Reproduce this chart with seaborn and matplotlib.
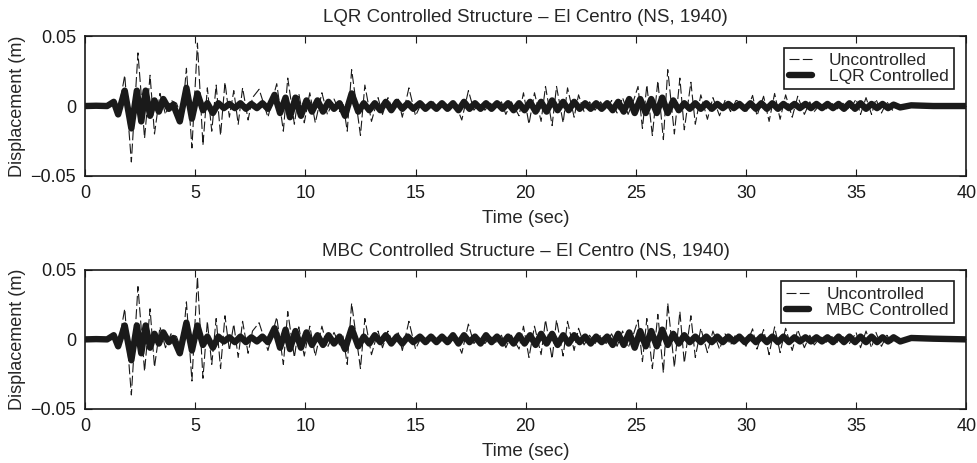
import numpy as np
import seaborn as sns
import matplotlib.pyplot as plt

# uncontrolled response (same record in both panels), peaks
t_unc = [0.0, 0.5, 1.0, 1.25, 1.5, 1.8, 2.1, 2.4, 2.7, 2.95,
         3.15, 3.4, 3.65, 3.9, 4.15, 4.4, 4.6, 4.85, 5.1, 5.35,
         5.55, 5.75, 5.95, 6.15, 6.35, 6.55, 6.75, 6.95, 7.15, 7.4,
         7.6, 7.9, 8.3, 8.7, 9.0, 9.2, 9.5, 9.7, 9.95, 10.2,
         10.45, 10.75, 11.0, 11.3, 11.55, 11.7, 11.9, 12.1, 12.5, 12.7,
         13.0, 13.3, 13.5, 13.75, 14.0, 14.2, 14.4, 14.7, 15.0, 15.3,
         15.55, 15.8, 16.05, 16.3, 16.55, 16.8, 17.1, 17.4, 17.65, 17.9,
         18.15, 18.4, 18.65, 18.9, 19.1, 19.35, 19.7, 19.9, 20.15, 20.4,
         20.7, 20.9, 21.2, 21.4, 21.7, 21.9, 22.2, 22.4, 22.65, 22.9,
         23.15, 23.4, 23.65, 23.9, 24.15, 24.4, 24.65, 24.9, 25.1, 25.3,
         25.5, 25.75, 26.0, 26.25, 26.45, 26.75, 27.0, 27.2, 27.5, 27.7,
         27.95, 28.25, 28.5, 28.8, 29.05, 29.3, 29.55, 29.75, 30.0, 30.3,
         30.5, 30.8, 31.05, 31.3, 31.55, 31.8, 32.1, 32.35, 32.65, 32.9,
         33.1, 33.4, 33.65, 33.9, 34.15, 34.4, 34.7, 35.0, 35.2, 35.45,
         35.7, 35.9, 36.15, 36.4, 36.65, 36.8, 37.1, 37.5, 38.5, 40.0]
d_unc = [0, 0.0002, -0.0003, 0.002, -0.005, 0.022, -0.040, 0.038, -0.023, 0.022,
         -0.020, 0.009, -0.006, 0.004, 0.002, -0.009, 0.027, -0.030, 0.045, -0.028,
         0.013, -0.018, 0.015, -0.021, 0.017, -0.008, 0.011, -0.013, 0.013, -0.010,
         0.006, 0.012, -0.008, 0.016, -0.018, 0.020, -0.013, 0.009, -0.012, 0.0095,
         -0.012, 0.0095, -0.006, 0.005, -0.004, 0.003, -0.018, 0.026, -0.021, 0.015,
         -0.011, 0.006, -0.006, 0.006, -0.004, 0.006, -0.008, 0.013, -0.007, 0.003,
         -0.003, 0.003, -0.002, 0.002, -0.003, 0.002, -0.010, 0.011, -0.003, 0.002,
         -0.003, 0.002, -0.002, 0.003, -0.006, 0.003, -0.007, 0.0095, -0.013, 0.0095,
         -0.011, 0.014, -0.014, 0.014, -0.012, 0.013, -0.008, 0.008, -0.004, 0.003,
         -0.003, 0.003, -0.003, 0.004, -0.005, 0.006, -0.006, 0.004, 0.014, -0.016,
         0.015, -0.021, 0.018, -0.024, 0.026, -0.020, 0.020, -0.017, 0.017, -0.013,
         0.008, -0.0095, 0.006, -0.007, 0.004, -0.004, 0.004, 0.003, -0.005, 0.0076,
         -0.007, 0.007, -0.011, 0.009, -0.0095, 0.008, -0.008, 0.007, -0.006, 0.003,
         -0.004, 0.002, -0.002, 0.002, -0.002, 0.002, -0.003, 0.005, -0.006, 0.006,
         -0.006, 0.005, -0.005, 0.003, -0.003, 0.002, -0.001, 0.0005, -0.0003, 0]

# controlled responses
t_ctrl = [0.0, 0.5, 1.0, 1.3, 1.5, 1.8, 2.1, 2.35, 2.55, 2.75,
          2.95, 3.15, 3.35, 3.55, 3.8, 4.0, 4.3, 4.6, 4.85, 5.1,
          5.35, 5.55, 5.8, 6.05, 6.3, 6.55, 6.8, 7.05, 7.3, 7.55,
          7.8, 8.05, 8.3, 8.6, 8.85, 9.1, 9.3, 9.55, 9.8, 10.05,
          10.3, 10.55, 10.8, 11.05, 11.3, 11.55, 11.8, 12.1, 12.4, 12.65,
          12.9, 13.15, 13.4, 13.65, 13.9, 14.15, 14.4, 14.65, 14.9, 15.2,
          15.45, 15.7, 15.95, 16.2, 16.45, 16.7, 16.95, 17.2, 17.45, 17.7,
          17.95, 18.2, 18.45, 18.7, 18.95, 19.2, 19.45, 19.7, 19.95, 20.2,
          20.45, 20.7, 20.95, 21.2, 21.45, 21.7, 21.95, 22.2, 22.45, 22.7,
          22.95, 23.2, 23.45, 23.7, 23.95, 24.2, 24.45, 24.7, 24.95, 25.2,
          25.45, 25.7, 25.95, 26.2, 26.45, 26.7, 26.95, 27.2, 27.45, 27.7,
          27.95, 28.2, 28.45, 28.7, 28.95, 29.2, 29.45, 29.7, 29.95, 30.2,
          30.45, 30.7, 30.95, 31.2, 31.45, 31.7, 31.95, 32.2, 32.45, 32.7,
          32.95, 33.2, 33.45, 33.7, 33.95, 34.2, 34.45, 34.7, 34.95, 35.2,
          35.45, 35.7, 35.95, 36.2, 36.45, 36.7, 37.0, 37.5, 38.5, 40.0]
d_lqr = [0, 0.0002, 0, 0.003, -0.006, 0.011, -0.016, 0.011, -0.011, 0.011,
         -0.007, 0.004, -0.004, 0.005, -0.002, 0.001, -0.011, 0.013, -0.009, 0.009,
         -0.003, 0.002, -0.005, 0.002, -0.0015, 0.0015, -0.0015, 0.002, -0.002, 0.0015,
         -0.0015, 0.002, -0.002, 0.008, -0.005, 0.006, -0.008, 0.006, -0.007, 0.004,
         -0.004, 0.004, -0.004, 0.003, -0.002, 0.002, -0.007, 0.009, -0.004, 0.002,
         -0.003, 0.002, -0.003, 0.003, -0.003, 0.003, -0.002, 0.002, -0.002, 0.002,
         -0.002, 0.0015, -0.002, 0.002, -0.002, 0.002, -0.003, 0.003, -0.002, 0.002,
         -0.002, 0.002, -0.002, 0.002, -0.002, 0.002, -0.003, 0.002, -0.003, 0.003,
         -0.004, 0.003, -0.004, 0.004, -0.003, 0.003, -0.003, 0.003, -0.002, 0.002,
         -0.002, 0.002, -0.002, 0.002, -0.003, 0.003, -0.004, 0.005, -0.005, 0.005,
         -0.005, 0.005, -0.005, 0.006, -0.005, 0.004, -0.003, 0.002, -0.002, 0.002,
         -0.002, 0.002, -0.002, 0.0015, -0.0015, 0.0015, -0.0015, 0.0015, -0.002, 0.002,
         -0.002, 0.002, -0.002, 0.002, -0.002, 0.0015, -0.0015, 0.0015, -0.0015, 0.0015,
         -0.0015, 0.0015, -0.0015, 0.0015, -0.0015, 0.0015, -0.002, 0.002, -0.002, 0.002,
         -0.002, 0.0015, -0.0015, 0.0015, -0.0015, 0.001, -0.001, 0.0005, 0, 0]
d_mbc = [0, 0.0002, 0, 0.003, -0.005, 0.010, -0.015, 0.010, -0.010, 0.010,
         -0.006, 0.004, -0.003, 0.005, -0.002, 0.001, -0.010, 0.012, -0.008, 0.010,
         -0.004, 0.002, -0.006, 0.002, -0.0015, 0.0015, -0.002, 0.002, -0.002, 0.0015,
         -0.0015, 0.002, -0.002, 0.008, -0.006, 0.007, -0.007, 0.006, -0.006, 0.005,
         -0.004, 0.003, -0.004, 0.003, -0.003, 0.002, -0.007, 0.008, -0.005, 0.002,
         -0.003, 0.003, -0.002, 0.003, -0.003, 0.002, -0.003, 0.002, -0.002, 0.002,
         -0.002, 0.002, -0.002, 0.002, -0.002, 0.003, -0.003, 0.003, -0.002, 0.002,
         -0.003, 0.003, -0.002, 0.002, -0.003, 0.002, -0.003, 0.003, -0.003, 0.003,
         -0.004, 0.004, -0.003, 0.004, -0.004, 0.003, -0.003, 0.003, -0.002, 0.002,
         -0.003, 0.002, -0.002, 0.002, -0.004, 0.004, -0.004, 0.005, -0.006, 0.006,
         -0.005, 0.006, -0.005, 0.007, -0.004, 0.004, -0.003, 0.003, -0.002, 0.002,
         -0.002, 0.002, -0.002, 0.002, -0.002, 0.002, -0.0015, 0.002, -0.002, 0.002,
         -0.002, 0.002, -0.002, 0.002, -0.002, 0.002, -0.002, 0.0015, -0.0015, 0.0015,
         -0.0015, 0.0015, -0.0015, 0.0015, -0.002, 0.002, -0.002, 0.002, -0.002, 0.002,
         -0.002, 0.002, -0.002, 0.0015, -0.0015, 0.0015, -0.0015, 0.001, 0.0005, 0]

panels = [("LQR", d_lqr), ("MBC", d_mbc)]
x_ticks = [0, 5, 10, 15, 20, 25, 30, 35, 40]
y_ticks = [-0.05, 0, 0.05]
y_labels = ["\u22120.05", "0", "0.05"]

sns.set_theme(style="ticks")
plt.rcParams['font.family'] = ['Liberation Sans', 'DejaVu Sans']

fig = plt.figure(figsize=(9.78, 4.63), dpi=100)
ax_pos = [[0.087, 0.620, 0.901, 0.302], [0.087, 0.117, 0.901, 0.300]]
ink = '#1a1a1a'

for (name, d_ctrl), pos in zip(panels, ax_pos):
    ax = fig.add_axes(pos)
    sns.lineplot(x=t_unc, y=d_unc, ax=ax, color=ink, linewidth=0.8,
                 linestyle=(0, (9, 3)), label='Uncontrolled')
    sns.lineplot(x=t_ctrl, y=d_ctrl, ax=ax, color=ink, linewidth=4.6,
                 label=f'{name} Controlled')
    ax.set_xlim(0, 40)
    ax.set_ylim(-0.05, 0.05)
    ax.set_xticks(x_ticks)
    ax.set_yticks(y_ticks, y_labels)
    ax.tick_params(direction='in', top=True, right=True, labelsize=13,
                   length=5, width=0.8, colors=ink, pad=6.5)
    for s in ax.spines.values():
        s.set_linewidth(1.2)
        s.set_color(ink)
    ax.set_xlabel('Time (sec)', fontsize=13.5, labelpad=6)
    ax.set_ylabel('Displacement (m)', fontsize=13, labelpad=3)
    ax.set_title(f'{name} Controlled Structure \u2013 El Centro (NS, 1940)',
                 fontsize=13.5, pad=10)
    leg = ax.legend(loc='upper right', bbox_to_anchor=(0.986, 0.917),
                    fancybox=False, edgecolor=ink, framealpha=1,
                    handlelength=1.3, borderpad=0.3, labelspacing=0.05,
                    handletextpad=1.0, fontsize=12.5, borderaxespad=0)
    leg.get_frame().set_linewidth(1.2)

fig.savefig('out.png', dpi=100)
